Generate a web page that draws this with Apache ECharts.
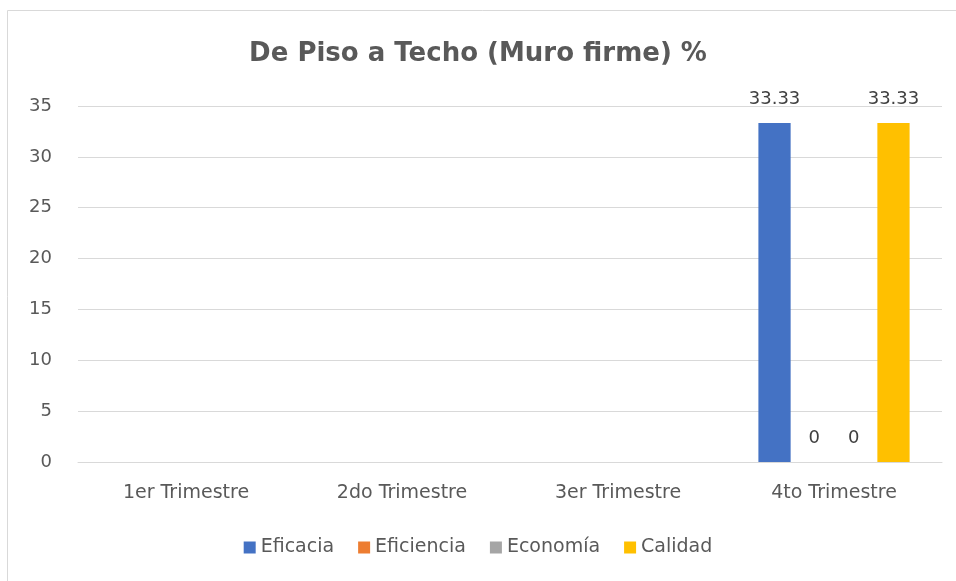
<!DOCTYPE html>
<html>
<head>
<meta charset="utf-8">
<script src="https://cdn.jsdelivr.net/npm/echarts@6/dist/echarts.min.js"></script>
<style>
  html, body { margin: 0; padding: 0; background: #fff; }
  #main { width: 956px; height: 581px; }
</style>
</head>
<body>
<div id="main"></div>
<script>
var categories = ['1er Trimestre', '2do Trimestre', '3er Trimestre', '4to Trimestre'];
var eficacia = [null, null, null, 33.33];
var eficiencia = [null, null, null, 0];
var economia = [null, null, null, 0];
var calidad = [null, null, null, 33.33];
var yTicks = [0, 5, 10, 15, 20, 25, 30, 35];

var font = "'DejaVu Sans', 'Liberation Sans', sans-serif";
var seriesColors = ['#4472C4', '#ED7D31', '#A5A5A5', '#FFC000'];

function bar(name, data) {
  return {
    name: name,
    type: 'bar',
    data: data,
    barGap: '23%',
    barCategoryGap: '30%',
    label: {
      show: true,
      position: 'top',
      distance: 15,
      color: '#404040',
      fontSize: 18,
      fontFamily: font
    }
  };
}

var chart = echarts.init(document.getElementById('main'));
chart.setOption({
  color: seriesColors,
  animation: false,
  graphic: [{
    type: 'rect',
    shape: { x: 7.5, y: 10.5, width: 960, height: 600 },
    style: { fill: 'none', stroke: '#d9d9d9', lineWidth: 1 },
    silent: true
  }],
  title: {
    text: 'De Piso a Techo (Muro firme) %',
    left: 'center',
    top: 36,
    textStyle: { color: '#595959', fontSize: 26, fontWeight: 'bold', fontFamily: font }
  },
  legend: {
    bottom: 19,
    left: 'center',
    itemWidth: 12,
    itemHeight: 12,
    itemGap: 24,
    icon: 'rect',
    textStyle: { color: '#595959', fontSize: 19, fontFamily: font },
    data: ['Eficacia', 'Eficiencia', 'Economía', 'Calidad']
  },
  grid: { left: 78, right: 14, top: 106, bottom: 119 },
  xAxis: {
    type: 'category',
    data: categories,
    axisLine: { show: true, lineStyle: { color: '#d9d9d9', width: 1 } },
    axisTick: { show: false },
    axisLabel: { color: '#595959', fontSize: 19, fontFamily: font, margin: 22 }
  },
  yAxis: {
    type: 'value',
    min: yTicks[0],
    max: yTicks[yTicks.length - 1],
    interval: 5,
    axisLine: { show: false },
    axisTick: { show: false },
    splitLine: { lineStyle: { color: '#d9d9d9', width: 1 } },
    axisLabel: { color: '#595959', fontSize: 18, fontFamily: font, margin: 26 }
  },
  series: [
    bar('Eficacia', eficacia),
    bar('Eficiencia', eficiencia),
    bar('Economía', economia),
    bar('Calidad', calidad)
  ]
});
</script>
</body>
</html>
